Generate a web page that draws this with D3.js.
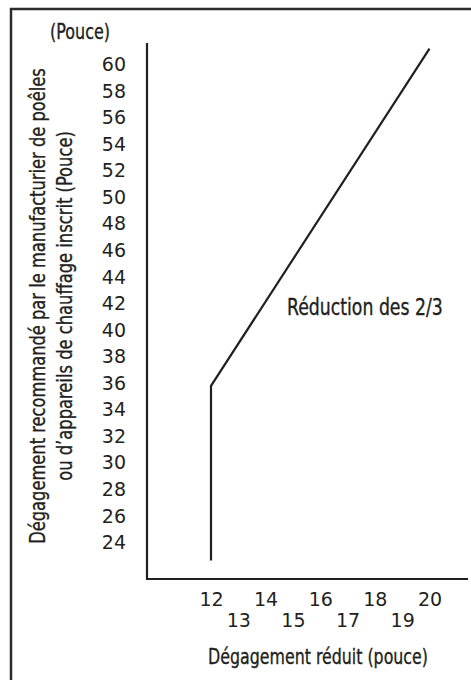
<!DOCTYPE html>
<html>
<head>
<meta charset="utf-8">
<script src="https://cdn.jsdelivr.net/npm/d3@7"></script>
<style>
  html, body { margin: 0; padding: 0; background: #fff; }
  svg { display: block; }
  .cond { font-family: "Liberation Sans Narrow", "DejaVu Sans Condensed", sans-serif; fill: #231f20; stroke: #231f20; stroke-width: 0.35px; }
  .tick text { font-family: "DejaVu Sans", sans-serif; font-size: 19px; fill: #231f20; }
</style>
</head>
<body>
<svg id="chart" width="471" height="680"></svg>
<script>
// data
var yTicks = [24, 26, 28, 30, 32, 34, 36, 38, 40, 42, 44, 46, 48, 50, 52, 54, 56, 58, 60];
var xTicksEven = [12, 14, 16, 18, 20];
var xTicksOdd = [13, 15, 17, 19];
var lineX = [12, 12, 20];
var lineY = [22.65, 35.8, 61.2];
var yTitleLines = ["Dégagement recommandé par le manufacturier de poêles", "ou d\u2019appareils de chauffage inscrit (Pouce)"];
var xTitle = "Dégagement réduit (pouce)";
var yUnit = "(Pouce)";
var noteLabel = "Réduction des 2/3";

var W = 471, H = 680;
var axisX = 147, axisBottom = 579, axisTop = 43, axisRight = 468;
var ink = "#231f20";

var svg = d3.select("#chart");

var xScale = d3.scaleLinear().domain([12, 20]).range([211, 429.5]);
var yScale = d3.scaleLinear().domain([24, 60]).range([542.5, 64.5]);

// outer frame (runs off right / bottom)
svg.append("path")
    .attr("d", "M11," + (H + 5) + "V9H" + (W + 5))
    .attr("fill", "none")
    .attr("stroke", "#2b2b2b")
    .attr("stroke-width", 2.5);

// axis lines
svg.append("line").attr("x1", axisX).attr("x2", axisX).attr("y1", axisTop).attr("y2", axisBottom + 1)
    .attr("stroke", ink).attr("stroke-width", 2.2);
svg.append("line").attr("x1", axisX - 1).attr("x2", axisRight).attr("y1", axisBottom).attr("y2", axisBottom)
    .attr("stroke", ink).attr("stroke-width", 2.2);

// y tick labels
var gy = svg.append("g").attr("transform", "translate(" + axisX + ",0)")
    .call(d3.axisLeft(yScale).tickValues(yTicks).tickSize(0).tickPadding(21).tickFormat(d3.format("d")));
gy.select(".domain").remove();

// x tick labels, staggered in two rows
var gxEven = svg.append("g").attr("transform", "translate(0," + axisBottom + ")")
    .call(d3.axisBottom(xScale).tickValues(xTicksEven).tickSize(0).tickPadding(14).tickFormat(d3.format("d")));
gxEven.select(".domain").remove();
var gxOdd = svg.append("g").attr("transform", "translate(0," + axisBottom + ")")
    .call(d3.axisBottom(xScale).tickValues(xTicksOdd).tickSize(0).tickPadding(35).tickFormat(d3.format("d")));
gxOdd.select(".domain").remove();

// reduction line
var pts = lineX.map(function (x, i) { return [x, lineY[i]]; });
svg.append("path")
    .datum(pts)
    .attr("fill", "none")
    .attr("stroke", ink)
    .attr("stroke-width", 2.2)
    .attr("stroke-linejoin", "miter")
    .attr("d", d3.line().x(function (d) { return xScale(d[0]); }).y(function (d) { return yScale(d[1]); }));

// condensed texts: squeeze horizontally to the width seen in the reference
function condText(parent, txt, x, y, size, len, anchor) {
    var g = parent.append("g").attr("transform", "translate(" + x + "," + y + ")");
    var t = g.append("text").attr("class", "cond")
        .attr("font-size", size)
        .attr("text-anchor", anchor || "start")
        .text(txt);
    var w = t.node().getComputedTextLength();
    var sx = w > 0 ? len / w : 1;
    t.attr("transform", "scale(" + sx + ",1)");
    return t;
}

condText(svg, yUnit, 80, 39, 21, 60, "middle");
condText(svg, noteLabel, 287, 315, 23, 156, "start");
condText(svg, xTitle, 318, 664, 21, 220, "middle");

var yTitle = svg.append("g").attr("transform", "translate(0,306) rotate(-90)");
condText(yTitle, yTitleLines[0], 0, 45, 22, 476, "middle");
condText(yTitle, yTitleLines[1], 0, 72, 22, 350, "middle");
</script>
</body>
</html>
